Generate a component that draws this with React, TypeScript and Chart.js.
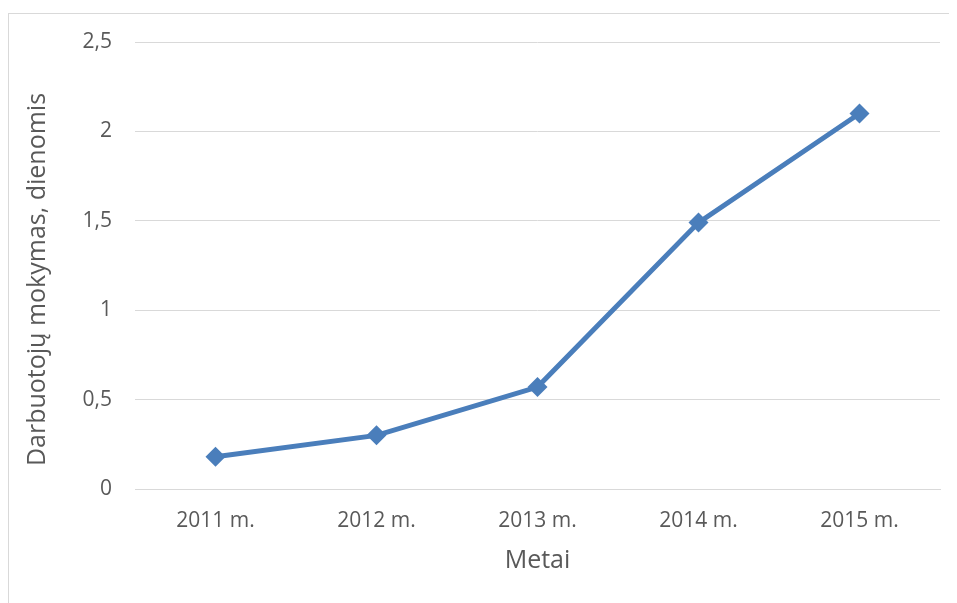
import React, { useEffect, useRef } from "react";
import { Chart, registerables } from "chart.js";

Chart.register(...registerables);

const categories = ["2011 m.", "2012 m.", "2013 m.", "2014 m.", "2015 m."];
const values = [0.18, 0.3, 0.57, 1.49, 2.1];
const yTitle = "Darbuotojų mokymas, dienomis";
const xTitle = "Metai";

const yTitlePlugin = {
  id: "yTitlePlugin",
  afterDraw(chart: any) {
    const { ctx, chartArea } = chart;
    ctx.save();
    ctx.translate(29, (chartArea.top + chartArea.bottom) / 2 + 14);
    ctx.rotate(-Math.PI / 2);
    ctx.fillStyle = "#595959";
    ctx.font = "25px 'Open Sans'";
    ctx.textAlign = "center";
    ctx.textBaseline = "middle";
    ctx.fillText(yTitle, 0, 0);
    ctx.restore();
  },
};

export default function App() {
  const ref = useRef<HTMLCanvasElement | null>(null);
  useEffect(() => {
    if (!ref.current) return;
    const chart = new Chart(ref.current, {
      type: "line",
      data: {
        labels: categories,
        datasets: [
          {
            data: values,
            borderColor: "#4a7ebb",
            backgroundColor: "#4a7ebb",
            borderWidth: 5,
            pointStyle: "rectRot",
            pointRadius: 10,
            pointHoverRadius: 10,
            pointBorderWidth: 0,
            tension: 0,
          },
        ],
      },
      plugins: [yTitlePlugin],
      options: {
        responsive: false,
        animation: false,
        events: [],
        layout: { padding: { top: 28, right: 16, left: 0, bottom: 0 } },
        plugins: { legend: { display: false }, tooltip: { enabled: false } },
        scales: {
          x: {
            offset: true,
            grid: { display: false, drawTicks: false },
            border: { display: true, color: "#d9d9d9", width: 1 },
            ticks: {
              color: "#595959",
              font: { family: "Open Sans", size: 21 },
              padding: 19,
              maxRotation: 0,
            },
            title: {
              display: true,
              text: xTitle,
              color: "#595959",
              font: { family: "Open Sans", size: 25 },
              padding: { top: 0, bottom: 27 },
            },
            afterFit: (s: any) => {
              s.height = 114;
            },
          },
          y: {
            min: 0,
            max: 2.5,
            grid: {
              color: "#d9d9d9",
              drawTicks: true,
              tickLength: 23,
              tickColor: "rgba(0,0,0,0)",
              lineWidth: 1,
            },
            border: { display: false },
            ticks: {
              stepSize: 0.5,
              color: "#595959",
              font: { family: "Open Sans", size: 21 },
              padding: 0,
              callback: (v: any) => String(v).replace(".", ","),
            },
            title: { display: false },
            afterFit: (s: any) => {
              s.width = 126;
            },
          },
        },
      },
    });
    return () => chart.destroy();
  }, []);
  return (
    <div style={{ paddingTop: 5 }}>
      <div
        style={{
          width: 1000,
          height: 700,
          border: "1px solid #d9d9d9",
          boxSizing: "border-box",
          position: "relative",
          background: "#fff",
        }}
      >
        <canvas
          ref={ref}
          width={947}
          height={589}
          style={{ position: "absolute", left: 0, top: 0, display: "block" }}
        />
      </div>
    </div>
  );
}
